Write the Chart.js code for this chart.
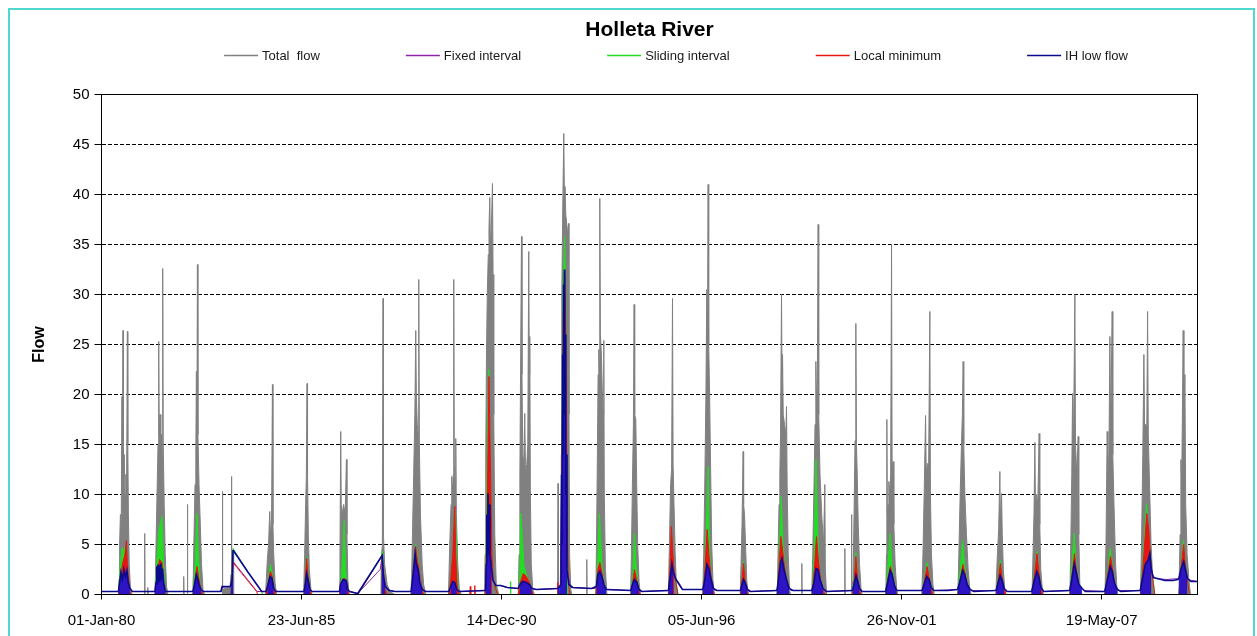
<!DOCTYPE html>
<html>
<head>
<meta charset="utf-8">
<title>Holleta River</title>
<script src="https://cdn.jsdelivr.net/npm/chart.js@4.4.1/dist/chart.umd.min.js"></script>
<style>
  html, body { margin: 0; padding: 0; background: #fff; overflow: hidden; }
  canvas { display: block; }
</style>
</head>
<body>
<canvas id="flowChart" width="1257" height="636"></canvas>
<script>
// ---------------------------------------------------------------------------
// Holleta River: total flow and four baseflow separations.
// Each record is [year, day of year, flow].
// ---------------------------------------------------------------------------
const chartTitle = 'Holleta River';
const axisTitle = 'Flow';
const seriesNames = ['Total  flow', 'Fixed interval', 'Sliding interval', 'Local minimum', 'IH low flow'];
const dateTicks = ['01-Jan-80', '23-Jun-85', '14-Dec-90', '05-Jun-96', '26-Nov-01', '19-May-07'];
const flowTicks = [0, 5, 10, 15, 20, 25, 30, 35, 40, 45, 50];

// Periods drawn as bare lines without shading beneath:
// linearly infilled gaps and the long elevated recessions.
const unshadedSpans = [
  [1983, 220, 1984, 142], [1987, 6, 1987, 243],
  [1990, 245, 1991, 165], [1992, 272, 1993, 200], [1995, 240, 1995, 330],
  [2008, 270, 2009, 180], [2009, 265, 2009, 365]
];
// Dry-season trickle at or below this flow is drawn as a line only.
const trickleFlow = 0.8;

const totalFlow = [
  [1980,1,0],[1980,170,0],[1980,176,1.5],[1980,182,5],[1980,190,8],[1980,198,7],[1980,206,19.8],[1980,210,12],[1980,216,26.4],[1980,220,12],[1980,228,14],[1980,236,10],[1980,244,12],[1980,252,11],[1980,260,26.3],[1980,264,15.1],[1980,270,8],[1980,278,3],[1980,290,0.8],[1980,305,0],
  [1981,63,0],[1981,67,6.1],[1981,70,0],[1981,95,0],[1981,98,0.7],[1981,101,0],[1981,168,0],[1981,175,2],[1981,182,6],[1981,192,11],[1981,200,15],[1981,207,25.3],[1981,212,16],[1981,220,18],[1981,228,14],[1981,236,16],[1981,243,13],[1981,247,32.6],[1981,252,15],[1981,262,9],[1981,272,4],[1981,285,0.8],[1981,300,0],
  [1982,89,0],[1982,92,1.8],[1982,95,0],[1982,126,0],[1982,129,9.0],[1982,132,0],[1982,182,0],[1982,188,2],[1982,195,6],[1982,205,11],[1982,213,14],[1982,219,22.3],[1982,224,15],[1982,229,33.0],[1982,234,16],[1982,245,11],[1982,258,7],[1982,270,3],[1982,285,0.5],[1982,300,0],
  [1983,110,0],[1983,114,10.3],[1983,117,0.5],[1983,190,0.8],[1983,200,2],[1983,204,11.8],[1983,208,3],[1983,215,4],[1983,220,4.4],[1983,226,0],[1984,180,0],
  [1984,188,1.5],[1984,198,3.5],[1984,210,5],[1984,222,8.3],[1984,230,6],[1984,240,7],[1984,249,21.0],[1984,254,7],[1984,262,4],[1984,275,1.2],[1984,290,0],
  [1985,195,0],[1985,205,4],[1985,215,9],[1985,222,11.8],[1985,229,21.1],[1985,234,12],[1985,242,6],[1985,252,2.5],[1985,268,0.5],[1985,280,0],
  [1986,185,0],[1986,193,4],[1986,201,16.3],[1986,206,9],[1986,215,8],[1986,230,9],[1986,245,8],[1986,258,13.5],[1986,263,6],[1986,272,1.5],[1986,285,0],
  [1987,6,0],[1987,238,0],[1987,243,3.8],[1987,252,5],[1987,259,29.6],[1987,263,6],[1987,275,3],[1987,300,1],[1987,330,0.3],[1988,11,0],
  [1988,172,0],[1988,180,2],[1988,188,6],[1988,200,12],[1988,212,18],[1988,221,26.4],[1988,227,20],[1988,236,17],[1988,245,16],[1988,251,31.5],[1988,257,15],[1988,268,8],[1988,285,3],[1988,300,1],[1988,320,0],
  [1989,182,0],[1989,195,5],[1989,208,9],[1989,215,11.8],[1989,222,10],[1989,230,12],[1989,235,31.5],[1989,240,13],[1989,250,11],[1989,255,15.6],[1989,261,8],[1989,275,3],[1989,290,0.6],[1989,310,0],
  [1990,178,0],[1990,183,4],[1990,190,14],[1990,197,24],[1990,205,30],[1990,215,34],[1990,222,36.5],[1990,230,39.7],[1990,236,35],[1990,245,36.5],[1990,257,41.1],[1990,263,32],[1990,270,18],[1990,280,6],[1990,295,1],[1990,320,0],
  [1991,150,0],[1991,158,4],[1991,166,12],[1991,174,24],[1991,182,35.8],[1991,187,22],[1991,195,14],[1991,205,13],[1991,215,18.1],[1991,222,12],[1991,235,13],[1991,245,15],[1991,255,34.3],[1991,260,22],[1991,265,25.8],[1991,271,10],[1991,280,3],[1991,295,0.5],[1991,310,0],
  [1992,178,0],[1992,183,11.1],[1992,186,0],[1992,210,0.5],[1992,215,14],[1992,220,30],[1992,230,39],[1992,240,46.1],[1992,246,40],[1992,252,40.8],[1992,260,38],[1992,270,37],[1992,280,36],[1992,287,37.1],[1992,292,18],[1992,298,4],[1992,310,0.5],[1992,320,0],
  [1993,100,0],[1993,104,3.5],[1993,107,0],[1993,195,0],[1993,202,6],[1993,210,14],[1993,217,22],[1993,224,24.5],[1993,229,23],[1993,234,39.6],[1993,240,26],[1993,250,24],[1993,260,20],[1993,268,18],[1993,274,25.4],[1993,279,10],[1993,290,2.5],[1993,305,0],
  [1994,177,0],[1994,185,4],[1994,195,11],[1994,205,17],[1994,212,29.0],[1994,218,18],[1994,229,17.5],[1994,238,11],[1994,248,5],[1994,262,1.2],[1994,275,0],
  [1995,190,0],[1995,200,5],[1995,212,11],[1995,222,12.5],[1995,231,29.6],[1995,237,13],[1995,246,9],[1995,258,4],[1995,270,1],[1995,285,0],
  [1996,168,0],[1996,178,4],[1996,190,12],[1996,200,20],[1996,209,30.5],[1996,215,24],[1996,222,41.0],[1996,228,25],[1996,237,20],[1996,248,12],[1996,258,5],[1996,270,1.5],[1996,285,0],
  [1997,177,0],[1997,185,3],[1997,195,7],[1997,206,14.3],[1997,211,9],[1997,220,8],[1997,230,5],[1997,242,1.5],[1997,255,0],
  [1998,182,0],[1998,190,4],[1998,200,9],[1998,208,12],[1998,215,16],[1998,225,30.0],[1998,230,22],[1998,235,24.0],[1998,242,18],[1998,255,17],[1998,268,16],[1998,275,18.8],[1998,281,11],[1998,292,4],[1998,305,0.5],[1998,315,0],
  [1999,60,0],[1999,63,3.1],[1999,66,0],[1999,162,0],[1999,172,4],[1999,185,11],[1999,195,17],[1999,203,23.3],[1999,210,19],[1999,218,21],[1999,226,37.0],[1999,232,18],[1999,245,12],[1999,262,8],[1999,280,5],[1999,293,11.0],[1999,298,2.5],[1999,310,0],
  [2000,125,0],[2000,128,4.6],[2000,131,0],[2000,192,0],[2000,195,8.0],[2000,198,0.5],[2000,210,1.5],[2000,220,8],[2000,230,15.4],[2000,238,27.1],[2000,244,15],[2000,252,12],[2000,262,7],[2000,275,3],[2000,290,0.6],[2000,300,0],
  [2001,172,0],[2001,178,4],[2001,182,17.5],[2001,187,8],[2001,195,9],[2001,202,11.3],[2001,210,10],[2001,220,12],[2001,229,35.0],[2001,235,12],[2001,245,13.3],[2001,252,7],[2001,265,3],[2001,280,0.6],[2001,290,0],
  [2002,167,0],[2002,178,4],[2002,190,10],[2002,204,17.9],[2002,211,12],[2002,222,13.1],[2002,235,13],[2002,247,28.3],[2002,253,10],[2002,263,4],[2002,278,1],[2002,290,0],
  [2003,162,0],[2003,172,4],[2003,185,10],[2003,198,15],[2003,207,17.9],[2003,215,23.3],[2003,221,15],[2003,232,10],[2003,248,6],[2003,265,2.5],[2003,280,0.6],[2003,295,0],
  [2004,177,0],[2004,190,3.5],[2004,205,6.5],[2004,217,12.3],[2004,223,7],[2004,234,10.1],[2004,241,6],[2004,252,2.5],[2004,265,0.6],[2004,275,0],
  [2005,172,0],[2005,180,3],[2005,192,8],[2005,201,15.2],[2005,207,9],[2005,218,10],[2005,230,9],[2005,244,16.1],[2005,250,7],[2005,260,2.5],[2005,275,0.6],[2005,285,0],
  [2006,187,0],[2006,195,5],[2006,205,12],[2006,213,20.1],[2006,221,14],[2006,236,30.0],[2006,242,15],[2006,255,12],[2006,269,15.8],[2006,275,6],[2006,285,1.2],[2006,295,0],
  [2007,172,0],[2007,182,5],[2007,194,16.3],[2007,201,12],[2007,212,14],[2007,221,25.8],[2007,229,16],[2007,244,28.3],[2007,250,14],[2007,262,9],[2007,278,3],[2007,290,0.8],[2007,300,0],
  [2008,162,0],[2008,172,5],[2008,185,14],[2008,196,24.0],[2008,203,17],[2008,215,17],[2008,225,16.5],[2008,233,28.3],[2008,240,16],[2008,255,10],[2008,268,5],[2008,280,2.5],[2008,290,0.5],[2008,300,0],
  [2009,180,0],[2009,186,3],[2009,192,6],[2009,200,13.5],[2009,208,11],[2009,223,26.4],[2009,230,14],[2009,240,22.0],[2009,248,9],[2009,262,4],[2009,280,1.5],[2009,295,0],[2009,365,0]
];

const fixedInterval = [
  [1980,1,0.3],[1980,172,0.3],[1980,215,2.6],[1980,255,3.0],[1980,280,0.6],[1980,310,0.3],
  [1981,172,0.3],[1981,215,3.2],[1981,250,2.5],[1981,275,0.3],
  [1982,188,0.3],[1982,225,2.2],[1982,262,0.4],[1982,290,0.3],
  [1983,100,0.3],[1983,110,0.7],[1983,195,0.8],[1983,210,1.3],[1983,220,3.3],[1984,0,1.5],[1984,95,0.3],
  [1984,188,0.3],[1984,228,2.0],[1984,262,0.4],[1984,285,0.3],
  [1985,200,0.3],[1985,225,2.8],[1985,258,0.4],[1985,280,0.3],
  [1986,188,0.3],[1986,200,1.6],[1986,222,1.8],[1986,255,1.6],[1986,275,0.4],[1986,290,0.3],
  [1987,6,0.1],[1987,230,2.5],[1987,243,3.3],[1987,255,3.4],[1987,268,1.5],[1987,300,0.5],[1988,11,0.3],
  [1988,178,0.3],[1988,218,4.6],[1988,250,2.6],[1988,285,0.5],[1988,320,0.3],
  [1989,185,0.3],[1989,240,2.0],[1989,270,0.4],[1989,290,0.3],
  [1990,188,0.4],[1990,218,12],[1990,240,5],[1990,265,1.2],[1990,300,0.9],[1990,340,0.9],
  [1991,40,0.7],[1991,150,0.6],[1991,200,1.6],[1991,262,1.0],[1991,290,0.6],[1991,330,0.5],
  [1992,180,0.6],[1992,205,0.8],[1992,240,30],[1992,262,20],[1992,280,2],[1992,310,0.7],
  [1993,150,0.6],[1993,195,0.6],[1993,235,2.6],[1993,275,0.8],[1993,300,0.5],
  [1994,180,0.4],[1994,215,1.8],[1994,260,0.4],[1994,290,0.3],
  [1995,190,0.4],[1995,225,3.6],[1995,265,1.5],[1995,300,0.9],[1995,330,0.5],
  [1996,170,0.5],[1996,212,3.5],[1996,250,1.6],[1996,275,0.5],[1996,310,0.4],
  [1997,180,0.4],[1997,210,1.8],[1997,245,0.4],[1997,280,0.3],
  [1998,180,0.4],[1998,225,4.0],[1998,280,1.2],[1998,320,0.4],
  [1999,165,0.4],[1999,210,3.0],[1999,250,1.2],[1999,280,0.4],[1999,310,0.3],
  [2000,205,0.4],[2000,240,2.2],[2000,275,0.5],[2000,300,0.3],
  [2001,170,0.3],[2001,215,2.6],[2001,260,0.6],[2001,280,0.4],
  [2002,170,0.4],[2002,218,2.0],[2002,265,0.5],[2002,290,0.4],
  [2003,160,0.5],[2003,212,2.6],[2003,262,0.7],[2003,300,0.4],
  [2004,180,0.4],[2004,222,2.1],[2004,265,0.4],[2004,290,0.3],
  [2005,170,0.3],[2005,222,2.6],[2005,265,0.5],[2005,290,0.3],
  [2006,185,0.4],[2006,232,3.4],[2006,280,0.8],[2006,330,0.4],
  [2007,170,0.3],[2007,226,3.1],[2007,270,1.0],[2007,310,0.4],
  [2008,160,0.4],[2008,225,5.0],[2008,256,4.2],[2008,280,2.0],[2008,310,1.6],
  [2009,60,1.5],[2009,180,1.6],[2009,228,3.6],[2009,265,1.5],[2009,365,1.3]
];

const slidingInterval = [
  [1980,1,0],[1980,172,0],[1980,185,2.5],[1980,205,4.6],[1980,225,4.5],[1980,250,5.0],[1980,262,2.0],[1980,280,0.4],[1980,295,0],
  [1981,172,0],[1981,185,3],[1981,210,6.5],[1981,240,7.8],[1981,252,4],[1981,265,1.0],[1981,280,0],
  [1982,187,0],[1982,205,3],[1982,225,8.1],[1982,238,4],[1982,255,1.0],[1982,275,0],
  [1983,198,0],[1983,210,1.5],[1983,220,4.6],[1984,0,2.3],[1984,142,0.3],[1984,150,0],
  [1984,187,0],[1984,205,1.2],[1984,230,3.0],[1984,250,1.8],[1984,265,0.5],[1984,280,0],
  [1985,202,0],[1985,212,1.8],[1985,225,3.8],[1985,242,1.8],[1985,258,0.4],[1985,275,0],
  [1986,190,0],[1986,205,1.5],[1986,222,4],[1986,235,7.4],[1986,248,3],[1986,262,0.6],[1986,280,0],
  [1987,6,0],[1987,243,3.8],[1987,252,4.3],[1987,262,2.0],[1987,280,0.5],[1987,300,0],
  [1988,177,0],[1988,195,2.5],[1988,220,5.0],[1988,235,3.8],[1988,250,3.0],[1988,265,1.2],[1988,285,0.4],[1988,300,0],
  [1989,187,0],[1989,205,1.5],[1989,225,4],[1989,245,8.5],[1989,258,6],[1989,270,1.5],[1989,285,0],
  [1990,188,0],[1990,200,10],[1990,208,16],[1990,220,22.5],[1990,235,12],[1990,250,4],[1990,265,1.5],[1990,290,0.5],[1990,310,0],
  [1991,68,0],[1991,72,1.3],[1991,76,0],
  [1991,150,0],[1991,165,2],[1991,175,8.1],[1991,190,6],[1991,205,3],[1991,230,2],[1991,262,1.2],[1991,285,0.4],[1991,300,0],
  [1992,205,0],[1992,215,2],[1992,232,30],[1992,248,35.8],[1992,258,30],[1992,270,6],[1992,285,1.5],[1992,300,0],
  [1993,195,0],[1993,212,3],[1993,230,8.1],[1993,245,5],[1993,262,2],[1993,280,0.6],[1993,295,0],
  [1994,180,0],[1994,198,2],[1994,215,6.1],[1994,232,3],[1994,250,1.0],[1994,268,0],
  [1995,190,0],[1995,205,2],[1995,220,6.0],[1995,235,3.5],[1995,250,1.8],[1995,265,1.2],[1995,285,0],
  [1996,170,0],[1996,190,3],[1996,205,7],[1996,222,12.8],[1996,232,6],[1996,248,2],[1996,270,0.4],[1996,285,0],
  [1997,180,0],[1997,195,1.5],[1997,210,3.3],[1997,225,1.5],[1997,245,0.4],[1997,260,0],
  [1998,180,0],[1998,198,3],[1998,222,9.8],[1998,240,5],[1998,258,2.8],[1998,278,1.2],[1998,300,0],
  [1999,165,0],[1999,185,4],[1999,205,13.5],[1999,222,6],[1999,240,2],[1999,270,0.4],[1999,285,0],
  [2000,205,0],[2000,222,2],[2000,238,4.2],[2000,255,1.6],[2000,275,0.4],[2000,290,0],
  [2001,170,0],[2001,190,2.5],[2001,215,6.1],[2001,232,3],[2001,255,1.0],[2001,280,0],
  [2002,170,0],[2002,195,1.8],[2002,220,3.2],[2002,240,1.7],[2002,260,0.6],[2002,280,0],
  [2003,160,0],[2003,185,2.5],[2003,210,5.4],[2003,228,3],[2003,255,1.0],[2003,285,0],
  [2004,180,0],[2004,200,1.8],[2004,222,3.4],[2004,240,1.6],[2004,260,0.5],[2004,280,0],
  [2005,170,0],[2005,195,2],[2005,222,4.3],[2005,242,2.2],[2005,262,0.6],[2005,280,0],
  [2006,185,0],[2006,208,3],[2006,228,6.1],[2006,248,2.8],[2006,275,0.8],[2006,295,0],
  [2007,170,0],[2007,195,2],[2007,225,4.6],[2007,248,2.6],[2007,268,1.0],[2007,290,0],
  [2008,160,0],[2008,185,3],[2008,210,7],[2008,222,9.1],[2008,240,6.5],[2008,258,4.3],[2008,272,2.4],[2008,290,1.2],[2008,305,0],
  [2009,180,0],[2009,192,1.5],[2009,205,3.2],[2009,226,5.4],[2009,245,2.8],[2009,265,1.4],[2009,285,0],[2009,365,0]
];

const localMinimum = [
  [1980,1,0],[1980,172,0],[1980,185,1.5],[1980,210,3.0],[1980,235,4.0],[1980,250,5.4],[1980,262,2.5],[1980,280,0.5],[1980,295,0],
  [1981,172,0],[1981,190,2.0],[1981,215,3.5],[1981,240,3.2],[1981,258,1.0],[1981,275,0],
  [1982,187,0],[1982,205,1.5],[1982,225,2.8],[1982,245,1.5],[1982,265,0.4],[1982,285,0],
  [1983,198,0],[1983,210,1.3],[1983,220,3.2],[1984,0,1.4],[1984,92,0.3],[1984,100,0],
  [1984,187,0],[1984,205,1.0],[1984,228,2.3],[1984,248,1.8],[1984,262,0.5],[1984,280,0],
  [1985,202,0],[1985,212,1.5],[1985,225,3.6],[1985,240,1.8],[1985,258,0.4],[1985,275,0],
  [1986,190,0],[1986,205,1.2],[1986,230,1.6],[1986,255,1.5],[1986,270,0.4],[1986,285,0],
  [1987,6,0],[1987,243,3.8],[1987,252,3.6],[1987,262,1.8],[1987,280,0.5],[1987,300,0],
  [1988,177,0],[1988,195,2.5],[1988,220,4.8],[1988,235,3.5],[1988,250,2.8],[1988,265,1.2],[1988,285,0.4],[1988,300,0],
  [1989,187,0],[1989,205,1.5],[1989,225,4],[1989,245,8.8],[1989,255,4],[1989,268,1.0],[1989,285,0],
  [1990,30,0],[1990,35,0.8],[1990,40,0],[1990,75,0],[1990,80,0.9],[1990,85,0],
  [1990,188,0],[1990,205,9],[1990,222,21.8],[1990,238,12],[1990,252,4],[1990,265,1.5],[1990,290,0.5],[1990,310,0],
  [1991,150,0],[1991,170,1.2],[1991,200,2.1],[1991,230,1.8],[1991,262,1.2],[1991,285,0.4],[1991,300,0],
  [1992,175,0],[1992,180,1.2],[1992,186,0],[1992,212,0],[1992,222,12],[1992,235,28],[1992,250,32],[1992,262,25],[1992,272,8],[1992,285,1.5],[1992,300,0],
  [1993,195,0],[1993,215,2.5],[1993,235,3.2],[1993,255,2.2],[1993,275,0.8],[1993,290,0],
  [1994,180,0],[1994,198,1.2],[1994,215,2.5],[1994,238,1.5],[1994,260,0.4],[1994,275,0],
  [1995,190,0],[1995,205,2.5],[1995,220,6.8],[1995,235,4.0],[1995,250,2.0],[1995,265,1.2],[1995,285,0],
  [1996,170,0],[1996,190,2.5],[1996,212,6.5],[1996,230,4.0],[1996,248,2.0],[1996,270,0.4],[1996,285,0],
  [1997,180,0],[1997,195,1.5],[1997,210,3.1],[1997,225,1.5],[1997,245,0.4],[1997,260,0],
  [1998,180,0],[1998,198,2.5],[1998,218,5.8],[1998,235,4.5],[1998,255,2.8],[1998,278,1.2],[1998,300,0],
  [1999,165,0],[1999,188,2.5],[1999,210,5.8],[1999,228,3.5],[1999,248,1.6],[1999,275,0.4],[1999,290,0],
  [2000,205,0],[2000,222,1.5],[2000,238,3.8],[2000,255,1.6],[2000,275,0.4],[2000,290,0],
  [2001,170,0],[2001,190,1.5],[2001,218,2.8],[2001,235,2.1],[2001,255,1.0],[2001,280,0],
  [2002,170,0],[2002,195,1.5],[2002,220,2.8],[2002,240,1.7],[2002,260,0.6],[2002,280,0],
  [2003,160,0],[2003,185,1.5],[2003,212,3.0],[2003,232,2.2],[2003,255,1.0],[2003,285,0],
  [2004,180,0],[2004,200,1.5],[2004,222,3.1],[2004,240,1.6],[2004,260,0.5],[2004,280,0],
  [2005,170,0],[2005,195,1.8],[2005,222,4.1],[2005,242,2.2],[2005,262,0.6],[2005,280,0],
  [2006,185,0],[2006,210,2.2],[2006,232,4.1],[2006,250,2.5],[2006,275,0.8],[2006,295,0],
  [2007,170,0],[2007,195,1.8],[2007,228,3.8],[2007,248,2.5],[2007,268,1.0],[2007,290,0],
  [2008,160,0],[2008,185,2.5],[2008,210,6],[2008,225,8.1],[2008,245,6.5],[2008,258,4.3],[2008,272,2.4],[2008,290,1.2],[2008,305,0],
  [2009,180,0],[2009,192,1.5],[2009,205,3.0],[2009,228,5.0],[2009,245,2.8],[2009,265,1.4],[2009,285,0],[2009,365,0]
];

const ihLowFlow = [
  [1980,1,0.3],[1980,170,0.3],[1980,180,1.0],[1980,195,2.2],[1980,210,1.5],[1980,225,2.5],[1980,240,1.8],[1980,255,2.4],[1980,268,1.2],[1980,285,0.6],[1980,310,0.3],
  [1981,170,0.3],[1981,180,1.2],[1981,188,2.8],[1981,193,1.0],[1981,200,3.0],[1981,206,1.2],[1981,213,2.9],[1981,220,1.4],[1981,228,3.1],[1981,235,1.6],[1981,245,2.6],[1981,258,1.0],[1981,275,0.3],
  [1982,185,0.3],[1982,200,1.0],[1982,218,2.0],[1982,232,1.6],[1982,245,1.0],[1982,265,0.5],[1982,290,0.3],
  [1983,100,0.3],[1983,110,0.8],[1983,195,0.8],[1983,210,1.5],[1983,220,4.45],[1984,0,2.3],[1984,142,0.3],
  [1984,185,0.3],[1984,200,0.8],[1984,225,1.8],[1984,245,1.6],[1984,262,0.6],[1984,285,0.3],
  [1985,200,0.3],[1985,212,1.0],[1985,225,2.1],[1985,240,1.4],[1985,258,0.5],[1985,280,0.3],
  [1986,188,0.3],[1986,200,1.0],[1986,225,1.5],[1986,255,1.4],[1986,270,0.5],[1986,290,0.3],
  [1987,6,0.1],[1987,243,3.8],[1987,250,3.9],[1987,262,2.0],[1987,280,0.8],[1987,320,0.4],[1988,11,0.3],
  [1988,175,0.3],[1988,195,2.0],[1988,215,4.1],[1988,228,3.0],[1988,245,2.5],[1988,260,1.2],[1988,285,0.5],[1988,320,0.3],
  [1989,185,0.3],[1989,205,0.8],[1989,225,1.3],[1989,245,1.2],[1989,265,0.5],[1989,290,0.3],
  [1990,188,0.4],[1990,195,3],[1990,200,8],[1990,205,4],[1990,212,10.1],[1990,218,6],[1990,224,9],[1990,232,4],[1990,245,2.8],[1990,260,1.5],[1990,290,0.9],[1990,340,0.9],
  [1991,40,0.7],[1991,150,0.6],[1991,165,1.0],[1991,195,1.3],[1991,230,1.2],[1991,262,1.0],[1991,285,0.6],[1991,330,0.5],
  [1992,180,0.6],[1992,212,1.0],[1992,218,12],[1992,222,5],[1992,228,24],[1992,232,14],[1992,238,31],[1992,242,20],[1992,246,32.5],[1992,250,18],[1992,255,26],[1992,260,10],[1992,266,14],[1992,272,2.5],[1992,290,1.0],[1992,330,0.7],
  [1993,150,0.6],[1993,200,0.8],[1993,215,2.0],[1993,235,2.3],[1993,255,1.8],[1993,275,1.0],[1993,300,0.5],
  [1994,180,0.4],[1994,195,1.0],[1994,215,1.5],[1994,240,1.2],[1994,260,0.5],[1994,290,0.3],
  [1995,190,0.4],[1995,205,1.5],[1995,225,3.1],[1995,240,2.2],[1995,260,1.6],[1995,300,1.0],[1995,330,0.5],
  [1996,170,0.5],[1996,185,1.2],[1996,210,3.0],[1996,230,2.6],[1996,250,1.6],[1996,275,0.6],[1996,310,0.4],
  [1997,180,0.4],[1997,195,1.0],[1997,210,1.5],[1997,230,1.1],[1997,250,0.5],[1997,280,0.3],
  [1998,180,0.4],[1998,195,1.5],[1998,215,3.2],[1998,230,3.6],[1998,250,2.5],[1998,275,1.5],[1998,300,0.6],[1998,340,0.4],
  [1999,165,0.4],[1999,185,1.2],[1999,205,2.6],[1999,225,2.5],[1999,245,1.5],[1999,275,0.6],[1999,310,0.3],
  [2000,205,0.4],[2000,220,1.0],[2000,240,1.9],[2000,255,1.4],[2000,275,0.6],[2000,300,0.3],
  [2001,170,0.3],[2001,190,1.2],[2001,215,2.4],[2001,235,2.0],[2001,255,1.0],[2001,280,0.4],
  [2002,170,0.4],[2002,190,1.0],[2002,215,1.8],[2002,240,1.5],[2002,260,0.7],[2002,290,0.4],
  [2003,60,0.4],[2003,160,0.5],[2003,180,1.2],[2003,210,2.4],[2003,230,2.0],[2003,255,1.0],[2003,285,0.5],[2003,320,0.3],
  [2004,180,0.4],[2004,195,1.0],[2004,220,1.9],[2004,240,1.4],[2004,260,0.6],[2004,290,0.3],
  [2005,170,0.3],[2005,190,1.2],[2005,220,2.3],[2005,240,1.8],[2005,262,0.7],[2005,290,0.3],
  [2006,185,0.4],[2006,205,1.5],[2006,230,3.1],[2006,250,2.2],[2006,275,1.0],[2006,310,0.6],[2006,340,0.3],
  [2007,170,0.3],[2007,190,1.2],[2007,225,2.8],[2007,245,2.3],[2007,265,1.2],[2007,295,0.5],[2007,330,0.3],
  [2008,160,0.4],[2008,180,1.5],[2008,210,3.0],[2008,240,3.5],[2008,256,4.1],[2008,270,2.5],[2008,290,1.7],[2008,330,1.6],
  [2009,40,1.4],[2009,120,1.4],[2009,170,1.5],[2009,180,1.6],[2009,200,2.5],[2009,228,3.3],[2009,245,2.5],[2009,265,1.6],[2009,300,1.3],[2009,365,1.3]
];

// ---------------------------------------------------------------------------
// Date helpers: the x axis counts days from 01-Jan-1980.
// ---------------------------------------------------------------------------
const FONT = "'Liberation Sans', Arial, Helvetica, sans-serif";
const ORIGIN = Date.UTC(1980, 0, 1);
const DAY_MS = 86400000;
const MONTHS = {Jan:0, Feb:1, Mar:2, Apr:3, May:4, Jun:5, Jul:6, Aug:7, Sep:8, Oct:9, Nov:10, Dec:11};

const dayNumber = (year, doy) => (Date.UTC(year, 0, doy) - ORIGIN) / DAY_MS;
function labelDay(label) {
  const [d, m, y] = label.split('-');
  const yy = Number(y);
  const year = yy < 50 ? 2000 + yy : 1900 + yy;
  return (Date.UTC(year, MONTHS[m], Number(d)) - ORIGIN) / DAY_MS;
}
const toPoints = rows => rows.map(([y, d, v]) => ({x: dayNumber(y, d), y: v}));

const CLEAR = 'rgba(0,0,0,0)';
const spans = unshadedSpans.map(([y0, d0, y1, d1]) => [dayNumber(y0, d0), dayNumber(y1, d1)]);
const clearInSpan = ctx => {
  const a = ctx.p0.parsed.x, b = ctx.p1.parsed.x;
  return spans.some(([s, e]) => a >= s && b <= e) ? CLEAR : undefined;
};
const clearTrickle = ctx =>
  (ctx.p0.parsed.y <= trickleFlow && ctx.p1.parsed.y <= trickleFlow) ? CLEAR : clearInSpan(ctx);

const COLORS = {
  total: '#808080',
  fixed: '#8E24AA',
  sliding: '#22DD22',
  local: '#E81515',
  ihLine: '#0A0A8C',
  ihFill: 'rgba(20,20,220,0.88)'
};

// Later datasets are painted first, so the gray total flow sits underneath.
const datasets = [
  {label: seriesNames[4], data: toPoints(ihLowFlow), borderColor: COLORS.ihLine, backgroundColor: COLORS.ihFill,
   borderWidth: 1.6, fill: 'origin', segment: {backgroundColor: clearTrickle}},
  {label: seriesNames[3], data: toPoints(localMinimum), borderColor: COLORS.local, backgroundColor: COLORS.local,
   borderWidth: 1, fill: 'origin', segment: {backgroundColor: clearInSpan}},
  {label: seriesNames[2], data: toPoints(slidingInterval), borderColor: COLORS.sliding, backgroundColor: COLORS.sliding,
   borderWidth: 1, fill: 'origin', segment: {backgroundColor: clearInSpan}},
  {label: seriesNames[1], data: toPoints(fixedInterval), borderColor: COLORS.fixed, backgroundColor: COLORS.fixed,
   borderWidth: 1, fill: false},
  {label: seriesNames[0], data: toPoints(totalFlow), borderColor: COLORS.total, backgroundColor: COLORS.total,
   borderWidth: 1, fill: 'origin'}
];

// White page, turquoise outline and a closed frame around the plot.
const framePlugin = {
  id: 'frame',
  beforeDraw(chart) {
    const {ctx, width, height} = chart;
    ctx.save();
    ctx.fillStyle = '#ffffff';
    ctx.fillRect(0, 0, width, height);
    ctx.strokeStyle = '#4FD8D2';
    ctx.lineWidth = 2;
    ctx.beginPath();
    ctx.moveTo(9, height + 4);
    ctx.lineTo(9, 9);
    ctx.lineTo(width - 3, 9);
    ctx.lineTo(width - 3, height + 4);
    ctx.stroke();
    ctx.restore();
  },
  afterDatasetsDraw(chart) {
    const {ctx, chartArea: {left, top, right, bottom}} = chart;
    ctx.save();
    ctx.strokeStyle = '#000';
    ctx.lineWidth = 1;
    ctx.strokeRect(left, top, right - left, bottom - top);
    ctx.restore();
  }
};

// Single-row key with short line samples, placed under the title.
const keyPlugin = {
  id: 'seriesKey',
  afterDraw(chart) {
    const {ctx} = chart;
    const lineLen = 34, textGap = 4, itemGap = 86, centerX = 676, y = 55.5;
    ctx.save();
    ctx.font = `13px ${FONT}`;
    ctx.textBaseline = 'middle';
    const items = seriesNames.map(name => {
      const ds = chart.data.datasets.find(d => d.label === name);
      return {name, color: ds.borderColor, width: lineLen + textGap + ctx.measureText(name).width};
    });
    const total = items.reduce((s, it) => s + it.width, 0) + itemGap * (items.length - 1);
    let x = centerX - total / 2;
    for (const it of items) {
      ctx.strokeStyle = it.color;
      ctx.lineWidth = 1.5;
      ctx.beginPath();
      ctx.moveTo(x, y);
      ctx.lineTo(x + lineLen, y);
      ctx.stroke();
      ctx.fillStyle = '#1a1a1a';
      ctx.fillText(it.name, x + lineLen + textGap, y + 1);
      x += it.width + itemGap;
    }
    ctx.restore();
  }
};

Chart.defaults.font.family = FONT;
Chart.defaults.color = '#000';

new Chart(document.getElementById('flowChart'), {
  type: 'line',
  data: {datasets},
  options: {
    responsive: false,
    animation: false,
    devicePixelRatio: 1,
    parsing: false,
    normalized: true,
    elements: {point: {radius: 0, hoverRadius: 0}, line: {tension: 0}},
    layout: {padding: {left: 0, right: 59.5, top: 0, bottom: 0}},
    plugins: {
      legend: {display: false},
      tooltip: {enabled: false},
      title: {
        display: true, text: chartTitle, fullSize: false, color: '#000',
        font: {size: 21, weight: 'bold'},
        padding: {top: 18, bottom: 51.3}
      }
    },
    scales: {
      x: {
        type: 'linear',
        min: 0,
        max: dayNumber(2010, 1),
        afterBuildTicks: scale => { scale.ticks = dateTicks.map(t => ({value: labelDay(t)})); },
        afterFit: scale => { scale.height = 41.5; },
        ticks: {
          autoSkip: false, maxRotation: 0, minRotation: 0, padding: 12,
          font: {size: 15}, color: '#000',
          callback: (value, index) => dateTicks[index]
        },
        grid: {drawOnChartArea: false, drawTicks: true, tickLength: 5, tickColor: '#000', tickWidth: 1},
        border: {display: true, color: '#000', width: 1}
      },
      y: {
        type: 'linear',
        min: flowTicks[0],
        max: flowTicks[flowTicks.length - 1],
        afterBuildTicks: scale => { scale.ticks = flowTicks.map(v => ({value: v})); },
        afterFit: scale => { scale.width = 101.5; },
        ticks: {padding: 5, font: {size: 15}, color: '#000'},
        grid: {
          color: c => (c.tick && (c.tick.value === flowTicks[0] || c.tick.value === flowTicks[flowTicks.length - 1]))
            ? 'rgba(0,0,0,0)' : '#000',
          lineWidth: 1, drawTicks: true, tickLength: 7, tickColor: '#000', tickWidth: 1, tickBorderDash: []
        },
        border: {display: true, color: '#000', width: 1, dash: [4, 2]},
        title: {
          display: true, text: axisTitle, color: '#000',
          font: {size: 16, weight: 'bold'},
          padding: {top: 30, bottom: 0}
        }
      }
    }
  },
  plugins: [framePlugin, keyPlugin]
});
</script>
</body>
</html>
